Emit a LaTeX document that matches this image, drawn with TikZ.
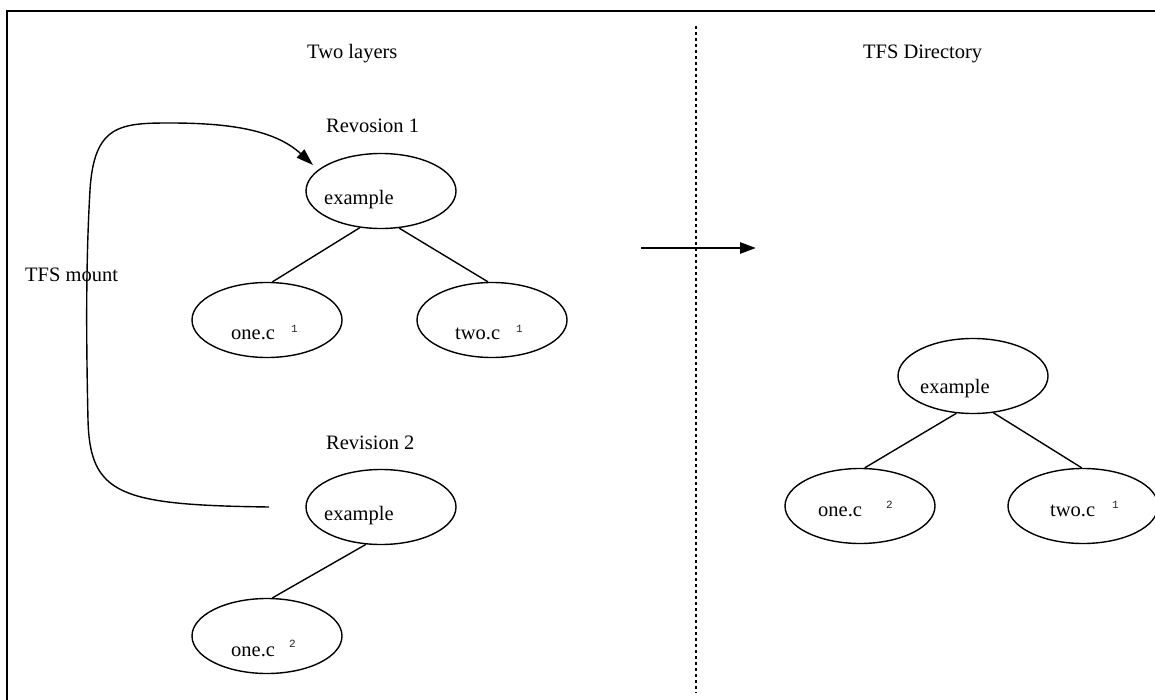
\documentclass[tikz,border=0pt]{standalone}
\usepackage{fontspec}
\setmainfont{Liberation Serif}
\newfontfamily\supfont{Liberation Mono}
\usetikzlibrary{shapes.geometric,arrows.meta}

\tikzset{
  border/.style={line width=1.3pt},
  fnode/.style={draw, ellipse, line width=1.4pt, minimum width=150pt,
                minimum height=75pt, inner sep=0pt},
  lbl/.style={anchor=base west, inner sep=0pt,
              font=\fontsize{20.5}{24}\selectfont},
  supnum/.style={anchor=base west, inner sep=0pt,
                 font=\supfont\fontsize{11}{13}\selectfont, text=black!85},
  link/.style={line width=1.4pt},
  divider/.style={line width=1.3pt, dash pattern=on 3pt off 3pt},
}

\begin{document}
\begin{tikzpicture}[x=1pt,y=-1pt]
\clip (0,0) rectangle (1155,700);
\fill[white] (0,0) rectangle (1155,700);

% outer frame (top and left edges)
\draw[border] (1160,11) -- (7,11) -- (7,705);

% divider between the two halves
\coordinate (dtop) at (696,26);
\coordinate (dbot) at (696,693);
\draw[divider] (dtop) -- (dbot);

% headings
\node[lbl] (hleft)  at (307,59) {Two layers};
\node[lbl] (hright) at (863,59) {TFS Directory};

% ---- revision 1 ----
\node[lbl] (rev1) at (326,133) {Revosion 1};
\node[fnode] (ex1) at (381,191) {};
\node[lbl] (ex1t) at (324,205) {example};
\node[fnode] (oa) at (267,320) {};
\node[lbl] (oat) at (231,339) {one.c};
\node[supnum] (oas) at (291,332) {1};
\node[fnode] (ta) at (492,320) {};
\node[lbl] (tat) at (455,339) {two.c};
\node[supnum] (tas) at (516,332) {1};
\draw[link] (ex1.-120) -- (oa.82);
\draw[link] (ex1.-64) -- (ta.96);

% ---- revision 2 ----
\node[lbl] (rev2) at (326,449) {Revision 2};
\node[fnode] (ex2) at (381,507) {};
\node[lbl] (ex2t) at (324,520) {example};
\node[fnode] (ob) at (267,636) {};
\node[lbl] (obt) at (231,656) {one.c};
\node[supnum] (obs) at (289,647) {2};
\draw[link] (ex2.-112) -- (ob.82);

% ---- mount loop ----
\node[lbl] (mnt) at (25,281) {TFS mount};
\coordinate (mstart) at (269,507);
\coordinate (mend) at (313,165);
\draw[link, -{Triangle[length=17pt,width=11pt]}] (mstart)
  .. controls (120,505) and (90,495) .. (88,420)
  .. controls (86,330) and (86,260) .. (90,190)
  .. controls (94,125) and (120,123) .. (170,123)
  .. controls (230,123) and (275,130) .. (mend);

% ---- transition arrow ----
\coordinate (ta1) at (641,248);
\coordinate (ta2) at (756,248);
\draw[line width=2.8pt, -{Triangle[length=16pt,width=11pt]}] (ta1) -- (ta2);

% ---- merged directory ----
\node[fnode] (exr) at (973,376) {};
\node[lbl] (exrt) at (920,393) {example};
\node[fnode] (or) at (860,506) {};
\node[lbl] (ort) at (818,516) {one.c};
\node[supnum] (ors) at (886,508) {2};
\node[fnode] (tr) at (1083,506) {};
\node[lbl] (trt) at (1050,516) {two.c};
\node[supnum] (trs) at (1112,508) {1};
\draw[link] (exr.-114) -- (or.83);
\draw[link] (exr.-61) -- (tr.92);
\end{tikzpicture}
\end{document}
